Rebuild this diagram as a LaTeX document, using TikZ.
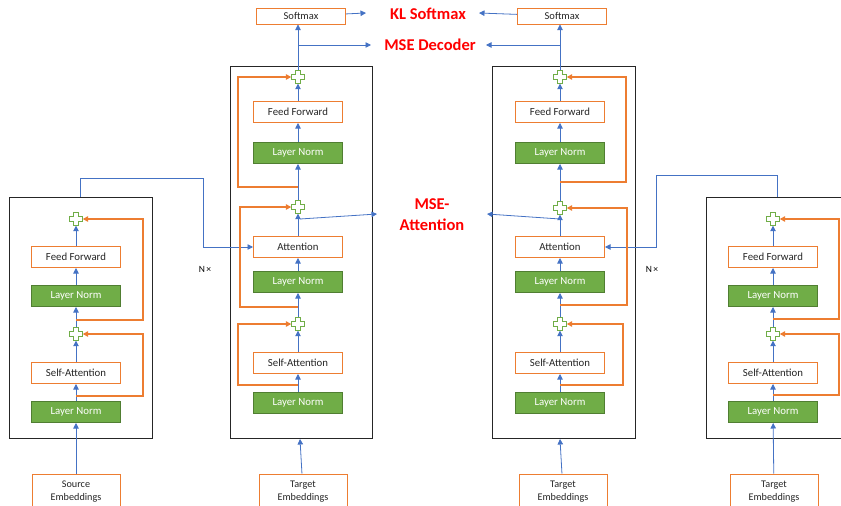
\documentclass[tikz,border=0pt]{standalone}
\usepackage{fontspec}
\setmainfont{Carlito}
\usetikzlibrary{arrows.meta}

\definecolor{tOrange}{RGB}{237,125,49}
\definecolor{tBlue}{RGB}{68,114,196}
\definecolor{tGreen}{RGB}{112,173,71}
\definecolor{tGreenDark}{RGB}{80,126,50}

\begin{document}
\begin{tikzpicture}[x=1pt,y=-1pt,
    block/.style={draw=tOrange,line width=1pt,fill=white,minimum width=89pt,minimum height=21pt,inner sep=0pt,text=black!85,font=\fontsize{10.8}{12}\selectfont},
    norm/.style={block,draw=tGreenDark,fill=tGreen,text=white},
    embed/.style={block,minimum width=88pt,minimum height=36pt,align=center,font=\fontsize{10.2}{13}\selectfont},
    addnode/.style={minimum width=13pt,minimum height=13pt,inner sep=0pt},
    arr/.style={tBlue,line width=0.8pt,-{Triangle[length=5.5pt,width=5.5pt]}},
    res/.style={tOrange,line width=1.3pt,-{Triangle[length=5.5pt,width=5.5pt]}},
    loss/.style={text=red,font=\fontsize{16.5}{21}\selectfont\bfseries,align=center},
    frame/.style={draw=black!85,line width=0.8pt}]

\useasboundingbox (0,0) rectangle (841,506);
\clip (0,0) rectangle (841,506);

\def\PLUSCOLOR{tGreen}
	% frames
	\draw[frame] (9,197) rectangle (152,438);
	\draw[frame] (230,66) rectangle (372,438);
	\draw[frame] (492,66) rectangle (635,438);
	\draw[frame] (850,197) -- (706,197) -- (706,438) -- (850,438);

	% source encoder
	\node[norm] (e1ln1) at (76,412) {Layer Norm};
	\node[block] (e1sa) at (76,373) {Self-Attention};
	\node[addnode] (e1p1) at (76,334) {};
	\node[norm] (e1ln2) at (76,296) {Layer Norm};
	\node[block] (e1ff) at (76,257) {Feed Forward};
	\node[addnode] (e1p2) at (76,219) {};
	\node[embed] (src) at (76,492) {Source\\Embeddings};
	\coordinate (e1r1) at (76,396);
	\coordinate (e1r2) at (76,320);
	\coordinate (e1out) at (80,197);

	% first decoder
	\node[norm] (d1ln1) at (298,403) {Layer Norm};
	\node[block] (d1sa) at (298,363) {Self-Attention};
	\node[addnode] (d1p1) at (298,324) {};
	\node[norm] (d1ln2) at (298,282) {Layer Norm};
	\node[block] (d1att) at (298,247) {Attention};
	\node[addnode] (d1p2) at (298,207) {};
	\node[norm] (d1ln3) at (298,153) {Layer Norm};
	\node[block] (d1ff) at (298,112) {Feed Forward};
	\node[addnode] (d1p3) at (298,77) {};
	\node[block,minimum height=16pt,font=\fontsize{10.5}{11}\selectfont] (d1sm) at (301,16) {Softmax};
	\node[embed] (tgt1) at (303,492) {Target\\Embeddings};
	\coordinate (d1r1) at (298,385);
	\coordinate (d1r2) at (298,307);
	\coordinate (d1r3) at (298,187);
	\coordinate (d1br) at (298,45);
	\coordinate (d1ma) at (300,219);
	\coordinate (d1in) at (300,439);

	% second decoder
	\node[norm] (d2ln1) at (560,403) {Layer Norm};
	\node[block] (d2sa) at (560,363) {Self-Attention};
	\node[addnode] (d2p1) at (560,324) {};
	\node[norm] (d2ln2) at (560,282) {Layer Norm};
	\node[block] (d2att) at (560,247) {Attention};
	\node[addnode] (d2p2) at (560,208) {};
	\node[norm] (d2ln3) at (560,153) {Layer Norm};
	\node[block] (d2ff) at (560,112) {Feed Forward};
	\node[addnode] (d2p3) at (560,77) {};
	\node[block,minimum height=16pt,font=\fontsize{10.5}{11}\selectfont] (d2sm) at (562,16) {Softmax};
	\node[embed] (tgt2) at (563,492) {Target\\Embeddings};
	\coordinate (d2r1) at (560,385);
	\coordinate (d2r2) at (560,305);
	\coordinate (d2r3) at (560,182);
	\coordinate (d2br) at (560,45);
	\coordinate (d2ma) at (560,219);
	\coordinate (d2in) at (560,439);

	% target encoder
	\node[norm] (e2ln1) at (773,412) {Layer Norm};
	\node[block] (e2sa) at (773,373) {Self-Attention};
	\node[addnode] (e2p1) at (773,334) {};
	\node[norm] (e2ln2) at (773,296) {Layer Norm};
	\node[block] (e2ff) at (773,257) {Feed Forward};
	\node[addnode] (e2p2) at (773,219) {};
	\node[embed] (tgt3) at (774,492) {Target\\Embeddings};
	\coordinate (e2r1) at (773,395);
	\coordinate (e2r2) at (773,319);
	\coordinate (e2out) at (777,197);

	% losses
	\node[loss] (kl) at (428,14) {KL Softmax};
	\node[loss] (msed) at (430,45) {MSE Decoder};
	\node[loss] (msea) at (432,215) {MSE-\\Attention};
	\coordinate (kl1) at (366,13);
	\coordinate (kl2) at (479,13);
	\coordinate (msed1) at (371,45);
	\coordinate (msed2) at (486,45);
	\coordinate (msea1) at (377,214);
	\coordinate (msea2) at (487,214);

	\node[font=\fontsize{9.5}{10}\selectfont] (n1) at (205,269) {N\,×};
	\node[font=\fontsize{9.5}{10}\selectfont] (n2) at (652,269) {N\,×};

	% main flow
	\draw[arr] (src) -- (e1ln1);
	\draw[arr] (e1ln1) -- (e1sa);
	\draw[arr] (e1sa) -- (e1p1);
	\draw[arr] (e1p1) -- (e1ln2);
	\draw[arr] (e1ln2) -- (e1ff);
	\draw[arr] (e1ff) -- (e1p2);

	\draw[arr] (tgt1) -- (d1in);
	\draw[arr] (d1ln1) -- (d1sa);
	\draw[arr] (d1sa) -- (d1p1);
	\draw[arr] (d1p1) -- (d1ln2);
	\draw[arr] (d1ln2) -- (d1att);
	\draw[arr] (d1att) -- (d1p2);
	\draw[arr] (d1p2) -- (d1ln3);
	\draw[arr] (d1ln3) -- (d1ff);
	\draw[arr] (d1ff) -- (d1p3);
	\draw[arr] (d1p3) -- (d1p3 |- d1sm.south);

	\draw[arr] (tgt2) -- (d2in);
	\draw[arr] (d2ln1) -- (d2sa);
	\draw[arr] (d2sa) -- (d2p1);
	\draw[arr] (d2p1) -- (d2ln2);
	\draw[arr] (d2ln2) -- (d2att);
	\draw[arr] (d2att) -- (d2p2);
	\draw[arr] (d2p2) -- (d2ln3);
	\draw[arr] (d2ln3) -- (d2ff);
	\draw[arr] (d2ff) -- (d2p3);
	\draw[arr] (d2p3) -- (d2p3 |- d2sm.south);

	\draw[arr] (tgt3) -- (e2ln1);
	\draw[arr] (e2ln1) -- (e2sa);
	\draw[arr] (e2sa) -- (e2p1);
	\draw[arr] (e2p1) -- (e2ln2);
	\draw[arr] (e2ln2) -- (e2ff);
	\draw[arr] (e2ff) -- (e2p2);

	% encoder outputs into attention
	\draw[arr] (e1out) |- (203,178) |- (d1att.west);
	\draw[arr] (e2out) |- (656,175) |- (d2att.east);

	% residuals
	\draw[res] (e1r1) -- (143,396) |- (e1p1.east);
	\draw[res] (e1r2) -- (143,320) |- (e1p2.east);
	\draw[res] (d1r1) -- (238,385) |- (d1p1.west);
	\draw[res] (d1r2) -- (240,307) |- (d1p2.west);
	\draw[res] (d1r3) -- (238,187) |- (d1p3.west);
	\draw[res] (d2r1) -- (623,385) |- (d2p1.east);
	\draw[res] (d2r2) -- (627,305) |- (d2p2.east);
	\draw[res] (d2r3) -- (626,182) |- (d2p3.east);
	\draw[res] (e2r1) -- (839,395) |- (e2p1.east);
	\draw[res] (e2r2) -- (839,319) |- (e2p2.east);

	% losses
	\draw[arr] (d1sm) -- (kl1);
	\draw[arr] (d2sm) -- (kl2);
	\draw[arr] (d1br) -- (msed1);
	\draw[arr] (d2br) -- (msed2);
	\draw[arr] (d1ma) -- (msea1);
	\draw[arr] (d2ma) -- (msea2);

	% add symbols
	\foreach \p in {e1p1,e1p2,d1p1,d1p2,d1p3,d2p1,d2p2,d2p3,e2p1,e2p2}
		\draw[\PLUSCOLOR,line width=0.8pt,fill=white,shift={(\p)}] (-2.3,-6.5) -- (2.3,-6.5) -- (2.3,-2.3) -- (6.5,-2.3) -- (6.5,2.3) -- (2.3,2.3) -- (2.3,6.5) -- (-2.3,6.5) -- (-2.3,2.3) -- (-6.5,2.3) -- (-6.5,-2.3) -- (-2.3,-2.3) -- cycle;

\end{tikzpicture}
\end{document}
